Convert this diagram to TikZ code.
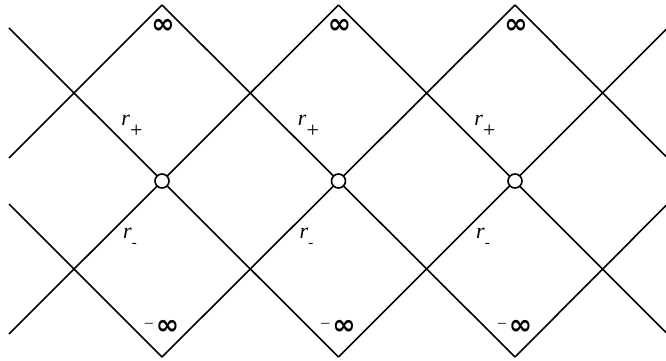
\documentclass[tikz,border=0pt]{standalone}
\usepackage{fontspec}
\setmainfont{Liberation Serif}
\newfontfamily\inffont{DejaVu Sans}
\usepackage{tikz}

\tikzset{
  hole/.style={circle,draw,fill=white,line width=1.6pt,minimum size=14pt,inner sep=0pt},
  lbl/.style={font=\fontsize{22}{24}\selectfont,inner sep=0pt},
  inflbl/.style={font=\inffont\fontsize{28}{28}\selectfont\bfseries,inner sep=0pt}
}

\begin{document}
\begin{tikzpicture}[x=1pt,y=-1pt,line width=1.6pt]
  \useasboundingbox (0,0) rectangle (666,361);
  % vertices and holes
  \foreach \i/\x in {1/162,2/338.5,3/515}{
    \coordinate (top\i) at (\x,5);
    \coordinate (bot\i) at (\x,357);
  }
  % free ends at the margins
  \coordinate (la) at (9,28);
  \coordinate (lb) at (9,158);
  \coordinate (lc) at (9,204);
  \coordinate (ld) at (9,334);
  \coordinate (ra) at (666,29.5);
  \coordinate (rb) at (666,156.5);
  \coordinate (rc) at (666,205.5);
  \coordinate (rd) at (666,332.5);
  % lines
  \draw (la) -- (bot2);
  \draw (top1) -- (bot3);
  \draw (top2) -- (rd);
  \draw (top3) -- (rb);
  \draw (top1) -- (lb);
  \draw (top2) -- (ld);
  \draw (top3) -- (bot1);
  \draw (ra) -- (bot2);
  \draw (rc) -- (bot3);
  \draw (lc) -- (bot1);
  % holes and labels
  \foreach \i/\x in {1/162,2/338.5,3/515}{
    \node[hole] (c\i) at (\x,181) {};
    \node[lbl] (rp\i) at ([xshift=-30pt,yshift=55pt]c\i) {\textit{r}\raisebox{-0.55em}{+}};
    \node[lbl] (rm\i) at ([xshift=-32pt,yshift=-57pt]c\i) {\textit{r}\raisebox{-0.4em}{\fontsize{15}{15}\selectfont -}};
    \node[inflbl] (inf\i) at ([xshift=1pt,yshift=-21pt]top\i) {∞};
    \node[inflbl] (minf\i) at ([xshift=0pt,yshift=30pt]bot\i) {\raisebox{0.25em}{\fontsize{16}{16}\selectfont\mdseries\rmfamily –}\hspace{3pt}∞};
  }
\end{tikzpicture}
\end{document}
